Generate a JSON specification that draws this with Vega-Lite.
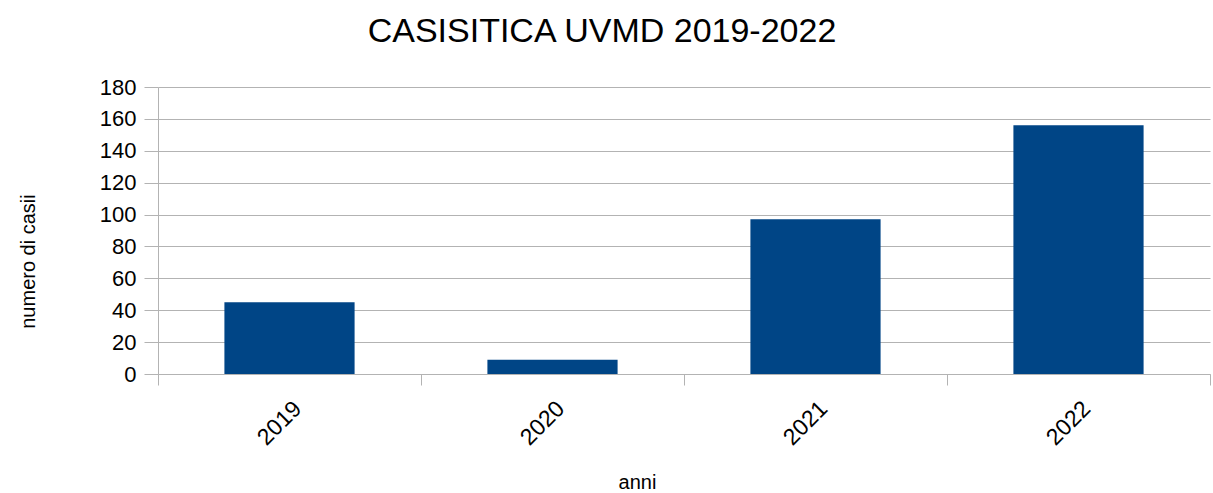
{
  "$schema": "https://vega.github.io/schema/vega-lite/v6.json",
  "autosize": {"type": "none"},
  "padding": {"left": 158, "top": 87, "right": 3, "bottom": 119},
  "width": 1052,
  "height": 287,
  "background": "white",
  "title": {
    "text": "CASISITICA UVMD 2019-2022",
    "font": "Liberation Sans",
    "fontSize": 34,
    "fontWeight": "normal",
    "color": "#000000",
    "anchor": "middle",
    "dx": -82,
    "offset": 27
  },
  "data": {
    "values": [
      {"anno": "2019", "casi": 45},
      {"anno": "2020", "casi": 9},
      {"anno": "2021", "casi": 97},
      {"anno": "2022", "casi": 156}
    ]
  },
  "config": {
    "view": {"stroke": null},
    "axis": {
      "labelFont": "Liberation Sans",
      "titleFont": "Liberation Sans",
      "labelColor": "#000000",
      "titleColor": "#000000",
      "domainColor": "#b3b3b3",
      "tickColor": "#b3b3b3",
      "gridColor": "#b3b3b3",
      "titleFontWeight": "normal"
    }
  },
  "mark": {"type": "bar", "color": "#004586", "width": {"band": 0.495}},
  "encoding": {
    "x": {
      "field": "anno",
      "type": "ordinal",
      "scale": {"paddingInner": 0, "paddingOuter": 0},
      "axis": {
        "title": "anni",
        "titleFontSize": 20,
        "titleX": 479,
        "titleY": 114,
        "titleBaseline": "alphabetic",
        "labelAngle": -45,
        "labelFontSize": 23,
        "labelPadding": 12,
        "tickBand": "extent",
        "tickSize": 11,
        "domain": true,
        "grid": false
      }
    },
    "y": {
      "field": "casi",
      "type": "quantitative",
      "scale": {"domain": [0, 180], "nice": false},
      "axis": {
        "title": "numero di casii",
        "titleFontSize": 20,
        "titleX": -120,
        "titleY": 174,
        "values": [0, 20, 40, 60, 80, 100, 120, 140, 160, 180],
        "labelFontSize": 22,
        "labelPadding": 8,
        "tickSize": 14,
        "grid": true,
        "domain": true
      }
    }
  }
}
